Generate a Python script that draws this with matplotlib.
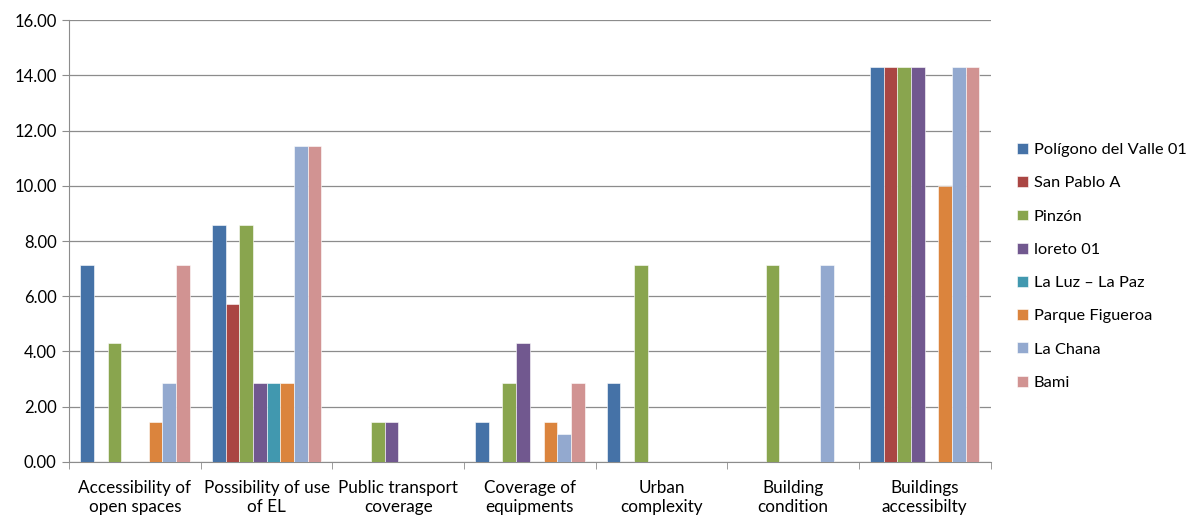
import matplotlib.pyplot as plt
import numpy as np

plt.rcParams['font.family'] = ['Lato', 'DejaVu Sans']

categories = ["Accessibility of\nopen spaces", "Possibility of use\nof EL",
              "Public transport\ncoverage", "Coverage of\nequipments",
              "Urban\ncomplexity", "Building\ncondition", "Buildings\naccessibilty"]

series = ["Polígono del Valle 01", "San Pablo A", "Pinzón", "loreto 01",
          "La Luz – La Paz", "Parque Figueroa", "La Chana", "Bami"]

poligono = [7.14, 8.57, 0.00, 1.43, 2.86, 0.00, 14.29]
san_pablo = [0.00, 5.71, 0.00, 0.00, 0.00, 0.00, 14.29]
pinzon = [4.29, 8.57, 1.43, 2.86, 7.14, 7.14, 14.29]
loreto = [0.00, 2.86, 1.43, 4.29, 0.00, 0.00, 14.29]
la_luz = [0.00, 2.86, 0.00, 0.00, 0.00, 0.00, 0.00]
parque = [1.43, 2.86, 0.00, 1.43, 0.00, 0.00, 10.00]
la_chana = [2.86, 11.43, 0.00, 1.00, 0.00, 7.14, 14.29]
bami = [7.14, 11.43, 0.00, 2.86, 0.00, 0.00, 14.29]

values = [poligono, san_pablo, pinzon, loreto, la_luz, parque, la_chana, bami]
colors = ["#4572A7", "#AA4643", "#89A54E", "#71588F",
          "#4198AF", "#DB843D", "#93A9CF", "#D19392"]

fig = plt.figure(figsize=(11.92, 5.15), dpi=100)
ax = fig.add_axes([0.058, 0.103, 0.773, 0.858])

x = np.arange(len(categories))
w = 0.104
n = len(series)
for i, (name, vals, c) in enumerate(zip(series, values, colors)):
    ax.bar(x + (i - (n - 1) / 2) * w, vals, width=w, color=c, label=name,
           edgecolor="white", linewidth=0.4, zorder=3)

ax.set_xlim(-0.5, len(categories) - 0.5)
ax.set_ylim(0, 16)
ax.set_yticks(np.arange(0, 17, 2))
ax.set_yticklabels([f"{v:.2f}" for v in np.arange(0, 17, 2)])
ax.yaxis.grid(True, color="#8c8c8c", linewidth=0.9, zorder=0)

ax.set_xticks(x)
ax.set_xticklabels(categories, linespacing=1.25)
ax.set_xticks(np.arange(-0.5, len(categories)), minor=True)
ax.tick_params(axis="x", which="major", length=0, pad=13, labelsize=12.3)
ax.tick_params(axis="x", which="minor", length=5, color="#8c8c8c")
ax.tick_params(axis="y", length=5, color="#8c8c8c", labelsize=12, pad=4)

for s in ["top", "right"]:
    ax.spines[s].set_visible(False)
for s in ["left", "bottom"]:
    ax.spines[s].set_color("#8c8c8c")

ax.legend(loc="upper left", bbox_to_anchor=(0.848, 0.735),
          bbox_transform=fig.transFigure, frameon=False, fontsize=11.8,
          handlelength=0.65, handleheight=0.65, handletextpad=0.35,
          labelspacing=1.16, borderaxespad=0)

fig.savefig("out.png", dpi=100)
